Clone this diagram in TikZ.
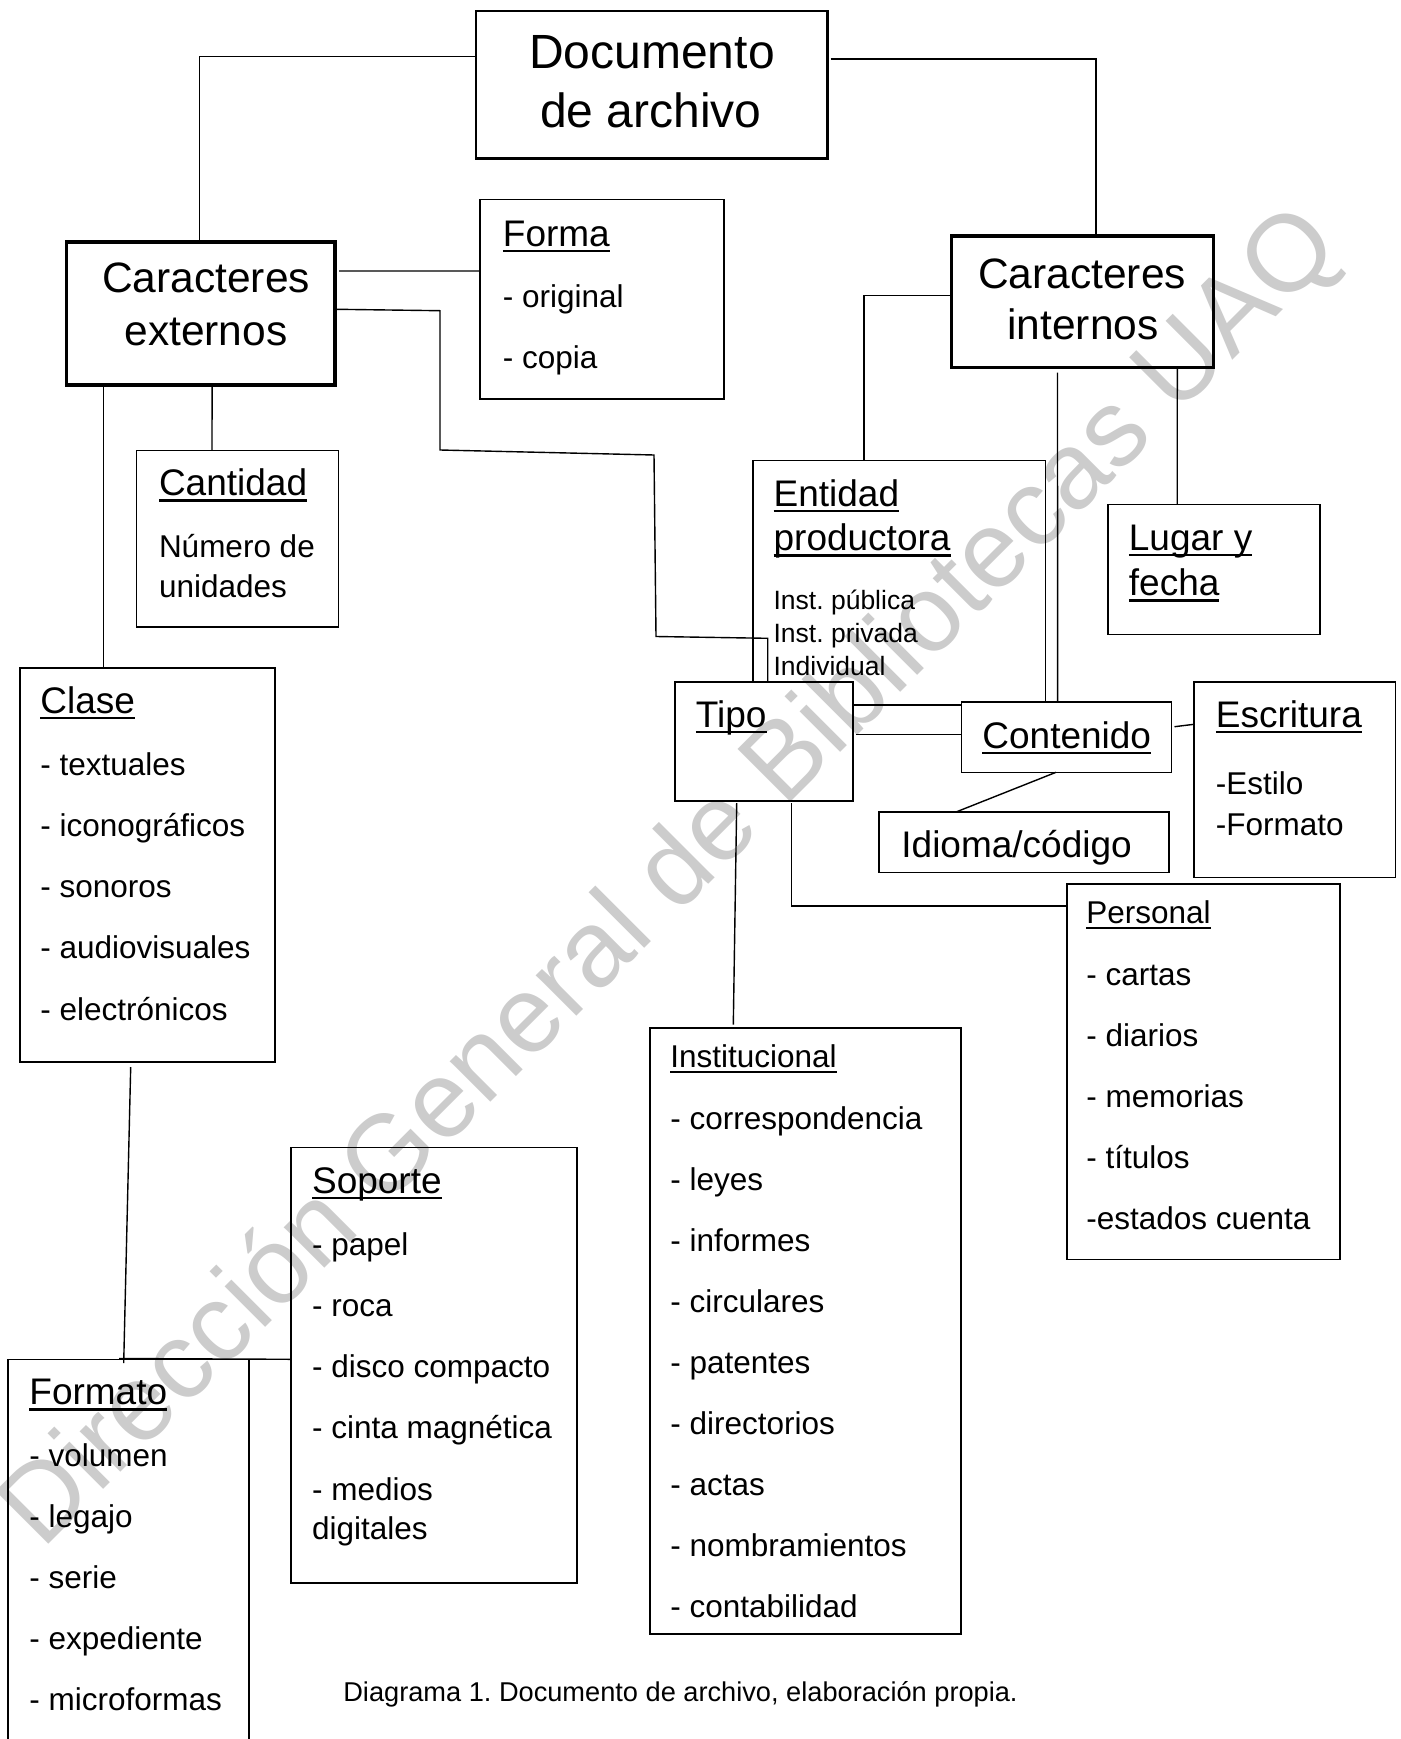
\documentclass[tikz,border=0pt]{standalone}
\usepackage{fontspec}
\setmainfont{Liberation Sans}
\usetikzlibrary{fit,calc}
\frenchspacing
\newcommand\szhead{\fontsize{18.5}{22}\selectfont}
\newcommand\szitem{\fontsize{15.75}{19}\selectfont}
\newcommand\szcar{\fontsize{21.25}{26}\selectfont}
\newcommand\szdoc{\fontsize{24}{29}\selectfont}
\newcommand\szsmall{\fontsize{13.25}{16}\selectfont}
\newcommand\szcap{\fontsize{13.6}{16}\selectfont}
\newcommand\szwm{\fontsize{54.25}{60}\selectfont}
\newcommand\ulx[1]{\setbox0=\hbox{#1}\rlap{\rule[-0.17em]{\wd0}{0.073em}}\box0}
\begin{document}
\begin{tikzpicture}[x=0.5pt,y=-0.5pt,
  box/.style={draw, fill=white, line width=0.8pt, inner sep=0pt, outer sep=0pt},
  docbox/.style={box, line width=1.3pt},
  carbox/.style={box, line width=1.8pt},
  conn/.style={draw, line width=0.7pt},
  hd/.style={anchor=base west, inner sep=0pt, font=\szhead},
  it/.style={anchor=base west, inner sep=0pt, font=\szitem},
  sm/.style={anchor=base west, inner sep=0pt, font=\szsmall},
  ctr/.style={anchor=base, inner sep=0pt}]
\useasboundingbox (0,0) rectangle (1401,1739);
\clip (0,0) rectangle (1401,1739);
\fill[white] (0,0) rectangle (1401,1739);

% boxes
\node[box, fit={(753.2,460.4) (1045.3,705)}] (ent) {};
\node[docbox, fit={(476,11) (827.5,158.6)}] (doc) {};
\node[carbox, fit={(66.6,241.8) (335,385)}] (cex) {};
\node[carbox, fit={(951.5,236) (1213.6,367.5)}] (cin) {};
\node[box, fit={(480,199.7) (724,399)}] (forma) {};
\node[box, fit={(136.4,450.4) (338.3,626.8)}] (cant) {};
\node[box, fit={(20,667.8) (275,1061.7)}] (clase) {};
\node[box, fit={(1108,504.5) (1320,634.5)}] (lug) {};
\node[box, fit={(675,681.7) (852.8,801)}] (tipo) {};
\node[box, fit={(961.4,701.7) (1171.5,772.3)}] (cont) {};
\node[box, fit={(1194,681.7) (1395.6,877.6)}] (esc) {};
\node[box, fit={(878.7,812) (1169,872.3)}] (idi) {};
\node[box, fit={(1067,884) (1340,1259.5)}] (pers) {};
\node[box, fit={(650,1027.7) (960.7,1634)}] (inst) {};
\node[box, fit={(291,1147.3) (576.8,1583)}] (sop) {};
\node[box, fit={(8,1359.3) (248.7,1760)}] (fmt) {};

% connectors
\draw[conn] ($(doc.north west)+(0,45.5)$) -| ($(cex.north west)+(133,0)$);
\draw[conn] ($(doc.north east)+(3,48)$) -| ($(cin.north west)+(144.5,0)$);
\draw[conn] ($(cex.north east)+(4,29.2)$) -- ($(forma.north west)+(0,71.3)$);
\coordinate (p1) at (440,310.7);
\coordinate (p2) at (440,450);
\coordinate (p3) at (654,455);
\coordinate (p4) at (656,636.5);
\coordinate (p5) at (767.7,638.3);
\draw[conn] ($(cex.north east)+(2,67.5)$) -- (p1) -- (p2) -- (p3) -- (p4) -- (p5) -- (p5 |- tipo.north);
\draw[conn] ($(cex.south west)+(145.5,0)$) -- ($(cant.north west)+(75.6,0)$);
\draw[conn] ($(cex.south west)+(37,0)$) -- ($(clase.north west)+(83.6,0)$);
\draw[conn] ($(clase.south west)+(110.7,5.3)$) -- ($(fmt.north west)+(115.7,3.7)$);
\draw[conn] ($(fmt.north west)+(111,-0.8)$) -- ($(sop.north west)+(0,212)$);
\draw[conn] ($(cin.north west)+(0,59.7)$) -| ($(ent.north west)+(110.6,0)$);
\draw[conn] ($(cin.south west)+(106,5)$) -- ($(cont.north west)+(96.2,0)$);
\draw[conn] ($(cin.south west)+(225.8,0)$) -- ($(lug.north west)+(69.2,0)$);
\draw[conn] ($(tipo.north east)+(3,52.6)$) -- ($(cont.north west)+(0,32.6)$);
\draw[conn] ($(cont.north east)+(3,25)$) -- ($(esc.north west)+(0,42.6)$);
\draw[conn] ($(cont.south west)+(94.6,0)$) -- ($(idi.north west)+(77.3,0)$);
\draw[conn] ($(tipo.south west)+(116.6,2)$) |- ($(pers.north west)+(0,22)$);
\draw[conn] ($(tipo.south west)+(61.7,2)$) -- ($(inst.north west)+(83.3,-3)$);

% texts
\node[ctr, font=\szdoc] (doc-t1) at (652,68.3) {Documento};
\node[ctr, font=\szdoc] (doc-t2) at (651,127.3) {de archivo};
\node[ctr, font=\szcar] (cex-t1) at (206,292.5) {Caracteres};
\node[ctr, font=\szcar] (cex-t2) at (206,345) {externos};
\node[ctr, font=\szcar] (cin-t1) at (1082,288.5) {Caracteres};
\node[ctr, font=\szcar] (cin-t2) at (1083,339.5) {internos};

\node[hd] (forma-h) at (502.5,246.2) {\ulx{Forma}};
\node[it] (forma-t1) at (502.5,307.7) {- original};
\node[it] (forma-t2) at (502.5,368.7) {- copia};

\node[hd] (cant-h) at (158.6,495.9) {\ulx{Cantidad}};
\node[it] (cant-t1) at (158.6,557.4) {Número de};
\node[it] (cant-t2) at (158.6,597.2) {unidades};

\node[hd] (clase-h) at (40,713.2) {\ulx{Clase}};
\foreach \t [count=\i from 0] in {- textuales, - iconográficos, - sonoros, - audiovisuales, - electrónicos}
  \node[it] (clase-t\i) at (40,{775+61.3*\i}) {\t};

\node[hd] (ent-h1) at (773.2,506) {\ulx{Entidad}};
\node[hd] (ent-h2) at (773.2,550.6) {\ulx{productora}};
\node[sm] (ent-t1) at (773.2,609.5) {Inst. pública};
\node[sm] (ent-t2) at (773.2,642.5) {Inst. privada};
\node[sm] (ent-t3) at (773.2,675) {Individual};

\node[hd] (lug-h1) at (1128.5,550.2) {\ulx{Lugar y}};
\node[hd] (lug-h2) at (1128.5,595.5) {\ulx{fecha}};

\node[hd] (tipo-h) at (695.5,727) {\ulx{Tipo}};
\node[hd] (cont-h) at (982,748) {\ulx{Contenido}};

\node[hd] (esc-h) at (1215.5,727.2) {\ulx{Escritura}};
\node[it] (esc-t1) at (1215.5,794) {-Estilo};
\node[it] (esc-t2) at (1215.5,835) {-Formato};

\node[hd] (idi-t) at (901,857) {Idioma/código};

\node[it] (pers-h) at (1086,923.6) {\ulx{Personal}};
\foreach \t [count=\i from 0] in {- cartas, - diarios, - memorias, - títulos, -estados cuenta}
  \node[it] (pers-t\i) at (1086,{985.4+61*\i}) {\t};

\node[it] (inst-h) at (670,1067.6) {\ulx{Institucional}};
\foreach \t [count=\i from 0] in {- correspondencia, - leyes, - informes, - circulares, - patentes, - directorios, - actas, - nombramientos, - contabilidad}
  \node[it] (inst-t\i) at (670,{1129.7+61*\i}) {\t};

\node[hd] (sop-h) at (311.7,1193) {\ulx{Soporte}};
\foreach \t [count=\i from 0] in {- papel, - roca, - disco compacto, - cinta magnética, - medios}
  \node[it] (sop-t\i) at (311.7,{1255+61.3*\i}) {\t};
\node[it] (sop-t5) at (311.7,1539) {digitales};

\node[hd] (fmt-h) at (29,1404.4) {\ulx{Formato}};
\foreach \t [count=\i from 0] in {- volumen, - legajo, - serie, - expediente, - microformas}
  \node[it] (fmt-t\i) at (29,{1466.9+61*\i}) {\t};

\node[ctr, font=\szcap] (cap) at (680.5,1701) {Diagrama 1. Documento de archivo, elaboración propia.};

% watermark
\begin{scope}[blend mode=multiply]
\node[rotate=45, text=black!20, font=\szwm, inner sep=0pt] (wm) at (672,879) {Dirección General de Bibliotecas UAQ};
\end{scope}
\end{tikzpicture}
\end{document}
